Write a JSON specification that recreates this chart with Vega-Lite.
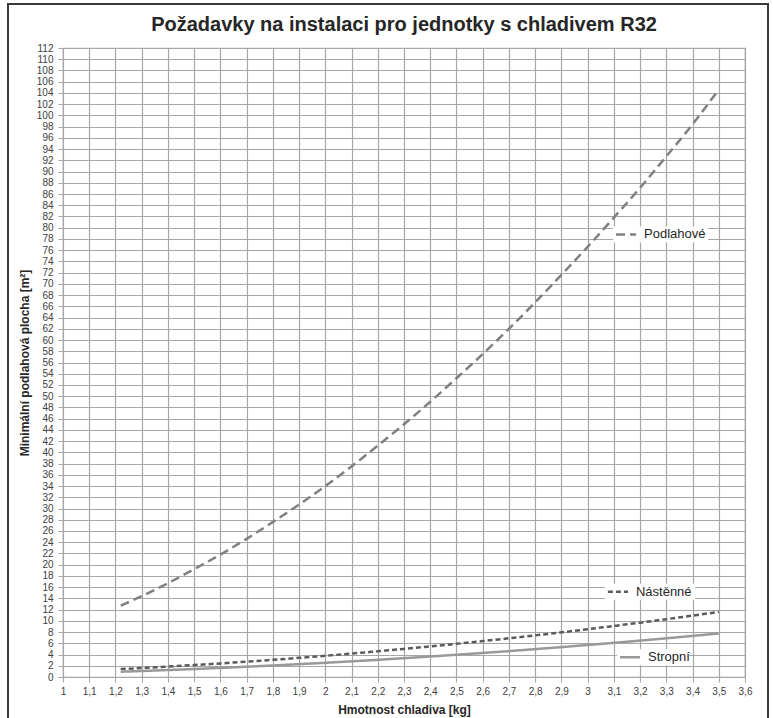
{
  "$schema": "https://vega.github.io/schema/vega-lite/v6.json",
  "autosize": {"type": "none"},
  "padding": {"left": 63, "top": 48, "right": 28, "bottom": 41},
  "width": 682,
  "height": 629,
  "background": "white",
  "title": {
    "text": "Požadavky na instalaci pro jednotky s chladivem R32",
    "font": "Liberation Sans",
    "fontSize": 20,
    "fontWeight": "bold",
    "color": "#262626",
    "anchor": "middle",
    "frame": "group",
    "offset": -32
  },
  "config": {
    "view": {"stroke": "#a6a6a6", "strokeWidth": 1.2},
    "axis": {
      "labelFont": "Liberation Sans",
      "labelFontSize": 10,
      "labelColor": "#404040",
      "labelOverlap": false,
      "labelFlush": false,
      "titleFont": "Liberation Sans",
      "titleFontSize": 12,
      "titleFontWeight": "bold",
      "titleColor": "#262626",
      "gridColor": "#a6a6a6",
      "gridWidth": 1.2,
      "gridOpacity": 1,
      "tickColor": "#a6a6a6",
      "tickSize": 5,
      "domainColor": "#a6a6a6"
    }
  },
  "datasets": {
    "curves": [
      {"m": 1.22, "typ": "Podlahové", "plocha": 12.7},
      {"m": 1.3, "typ": "Podlahové", "plocha": 14.4},
      {"m": 1.4, "typ": "Podlahové", "plocha": 16.7},
      {"m": 1.5, "typ": "Podlahové", "plocha": 19.2},
      {"m": 1.6, "typ": "Podlahové", "plocha": 21.8},
      {"m": 1.7, "typ": "Podlahové", "plocha": 24.6},
      {"m": 1.8, "typ": "Podlahové", "plocha": 27.6},
      {"m": 1.9, "typ": "Podlahové", "plocha": 30.7},
      {"m": 2.0, "typ": "Podlahové", "plocha": 34.0},
      {"m": 2.1, "typ": "Podlahové", "plocha": 37.5},
      {"m": 2.2, "typ": "Podlahové", "plocha": 41.2},
      {"m": 2.3, "typ": "Podlahové", "plocha": 45.0},
      {"m": 2.4, "typ": "Podlahové", "plocha": 49.0},
      {"m": 2.5, "typ": "Podlahové", "plocha": 53.2},
      {"m": 2.6, "typ": "Podlahové", "plocha": 57.5},
      {"m": 2.7, "typ": "Podlahové", "plocha": 62.0},
      {"m": 2.8, "typ": "Podlahové", "plocha": 66.7},
      {"m": 2.9, "typ": "Podlahové", "plocha": 71.6},
      {"m": 3.0, "typ": "Podlahové", "plocha": 76.6},
      {"m": 3.1, "typ": "Podlahové", "plocha": 81.8},
      {"m": 3.2, "typ": "Podlahové", "plocha": 87.1},
      {"m": 3.3, "typ": "Podlahové", "plocha": 92.7},
      {"m": 3.4, "typ": "Podlahové", "plocha": 98.4},
      {"m": 3.5, "typ": "Podlahové", "plocha": 104.6},
      {"m": 1.22, "typ": "Nástěnné", "plocha": 1.41},
      {"m": 1.3, "typ": "Nástěnné", "plocha": 1.6},
      {"m": 1.4, "typ": "Nástěnné", "plocha": 1.85},
      {"m": 1.5, "typ": "Nástěnné", "plocha": 2.13},
      {"m": 1.6, "typ": "Nástěnné", "plocha": 2.42},
      {"m": 1.7, "typ": "Nástěnné", "plocha": 2.73},
      {"m": 1.8, "typ": "Nástěnné", "plocha": 3.06},
      {"m": 1.9, "typ": "Nástěnné", "plocha": 3.41},
      {"m": 2.0, "typ": "Nástěnné", "plocha": 3.78},
      {"m": 2.1, "typ": "Nástěnné", "plocha": 4.17},
      {"m": 2.2, "typ": "Nástěnné", "plocha": 4.58},
      {"m": 2.3, "typ": "Nástěnné", "plocha": 5.0},
      {"m": 2.4, "typ": "Nástěnné", "plocha": 5.45},
      {"m": 2.5, "typ": "Nástěnné", "plocha": 5.91},
      {"m": 2.6, "typ": "Nástěnné", "plocha": 6.39},
      {"m": 2.7, "typ": "Nástěnné", "plocha": 6.89},
      {"m": 2.8, "typ": "Nástěnné", "plocha": 7.41},
      {"m": 2.9, "typ": "Nástěnné", "plocha": 7.95},
      {"m": 3.0, "typ": "Nástěnné", "plocha": 8.51},
      {"m": 3.1, "typ": "Nástěnné", "plocha": 9.09},
      {"m": 3.2, "typ": "Nástěnné", "plocha": 9.68},
      {"m": 3.3, "typ": "Nástěnné", "plocha": 10.3},
      {"m": 3.4, "typ": "Nástěnné", "plocha": 10.93},
      {"m": 3.5, "typ": "Nástěnné", "plocha": 11.6},
      {"m": 1.22, "typ": "Stropní", "plocha": 0.94},
      {"m": 1.3, "typ": "Stropní", "plocha": 1.07},
      {"m": 1.4, "typ": "Stropní", "plocha": 1.24},
      {"m": 1.5, "typ": "Stropní", "plocha": 1.42},
      {"m": 1.6, "typ": "Stropní", "plocha": 1.62},
      {"m": 1.7, "typ": "Stropní", "plocha": 1.83},
      {"m": 1.8, "typ": "Stropní", "plocha": 2.05},
      {"m": 1.9, "typ": "Stropní", "plocha": 2.29},
      {"m": 2.0, "typ": "Stropní", "plocha": 2.53},
      {"m": 2.1, "typ": "Stropní", "plocha": 2.79},
      {"m": 2.2, "typ": "Stropní", "plocha": 3.06},
      {"m": 2.3, "typ": "Stropní", "plocha": 3.35},
      {"m": 2.4, "typ": "Stropní", "plocha": 3.65},
      {"m": 2.5, "typ": "Stropní", "plocha": 3.96},
      {"m": 2.6, "typ": "Stropní", "plocha": 4.28},
      {"m": 2.7, "typ": "Stropní", "plocha": 4.61},
      {"m": 2.8, "typ": "Stropní", "plocha": 4.96},
      {"m": 2.9, "typ": "Stropní", "plocha": 5.32},
      {"m": 3.0, "typ": "Stropní", "plocha": 5.7},
      {"m": 3.1, "typ": "Stropní", "plocha": 6.08},
      {"m": 3.2, "typ": "Stropní", "plocha": 6.48},
      {"m": 3.3, "typ": "Stropní", "plocha": 6.89},
      {"m": 3.4, "typ": "Stropní", "plocha": 7.32},
      {"m": 3.5, "typ": "Stropní", "plocha": 7.75}
    ],
    "labels": [
      {"typ": "Podlahové", "m": 3.097, "m2": 3.459, "plocha": 78.8},
      {"typ": "Nástěnné", "m": 3.066, "m2": 3.41, "plocha": 15.2},
      {"typ": "Stropní", "m": 3.112, "m2": 3.387, "plocha": 3.5}
    ],
    "frame": [{"m": 1, "m2": 3.6, "plocha": 112, "plocha2": 0}]
  },
  "encoding": {
    "x": {
      "field": "m",
      "type": "quantitative",
      "title": "Hmotnost chladiva [kg]",
      "scale": {"domain": [1, 3.6], "nice": false, "zero": false},
      "axis": {
        "values": [1, 1.1, 1.2, 1.3, 1.4, 1.5, 1.6, 1.7, 1.8, 1.9, 2, 2.1, 2.2, 2.3, 2.4, 2.5, 2.6, 2.7, 2.8, 2.9, 3, 3.1, 3.2, 3.3, 3.4, 3.5, 3.6],
        "labelExpr": "replace(format(datum.value, '.1~f'), '.', ',')",
        "labelPadding": 4,
        "titlePadding": 8
      }
    },
    "y": {
      "field": "plocha",
      "type": "quantitative",
      "title": "Minimální podlahová plocha [m²]",
      "scale": {"domain": [0, 112], "nice": false},
      "axis": {
        "values": [0, 2, 4, 6, 8, 10, 12, 14, 16, 18, 20, 22, 24, 26, 28, 30, 32, 34, 36, 38, 40, 42, 44, 46, 48, 50, 52, 54, 56, 58, 60, 62, 64, 66, 68, 70, 72, 74, 76, 78, 80, 82, 84, 86, 88, 90, 92, 94, 96, 98, 100, 102, 104, 106, 108, 110, 112],
        "labelPadding": 5,
        "titlePadding": 5
      }
    }
  },
  "layer": [
    {
      "data": {"name": "curves"},
      "mark": {"type": "line", "strokeWidth": 2.5, "interpolate": "monotone"},
      "encoding": {
        "color": {
          "field": "typ",
          "type": "nominal",
          "scale": {"domain": ["Podlahové", "Nástěnné", "Stropní"], "range": ["#808080", "#5c5c5c", "#999999"]},
          "legend": null
        },
        "strokeDash": {
          "field": "typ",
          "type": "nominal",
          "scale": {"domain": ["Podlahové", "Nástěnné", "Stropní"], "range": [[9, 5], [5, 3], [1, 0]]},
          "legend": null
        }
      }
    },
    {
      "data": {"name": "labels"},
      "mark": {"type": "rect", "fill": "white", "yOffset": -8, "y2Offset": 8},
      "encoding": {
        "x2": {"field": "m2"},
        "y2": {"field": "plocha"}
      }
    },
    {
      "data": {"name": "labels"},
      "mark": {"type": "rule", "strokeWidth": 2.5, "xOffset": 3, "x2Offset": 23},
      "encoding": {
        "x2": {"field": "m"},
        "color": {"field": "typ", "type": "nominal", "legend": null},
        "strokeDash": {"field": "typ", "type": "nominal", "legend": null}
      }
    },
    {
      "data": {"name": "labels"},
      "mark": {"type": "text", "align": "left", "baseline": "middle", "dx": 31, "font": "Liberation Sans", "fontSize": 13, "color": "#262626"},
      "encoding": {
        "text": {"field": "typ"}
      }
    },
    {
      "data": {"name": "frame"},
      "mark": {"type": "rect", "fillOpacity": 0, "stroke": "#3a3a3a", "strokeWidth": 2, "xOffset": -55, "x2Offset": 23, "yOffset": -44, "y2Offset": 46},
      "encoding": {
        "x2": {"field": "m2"},
        "y2": {"field": "plocha2"}
      }
    }
  ]
}
